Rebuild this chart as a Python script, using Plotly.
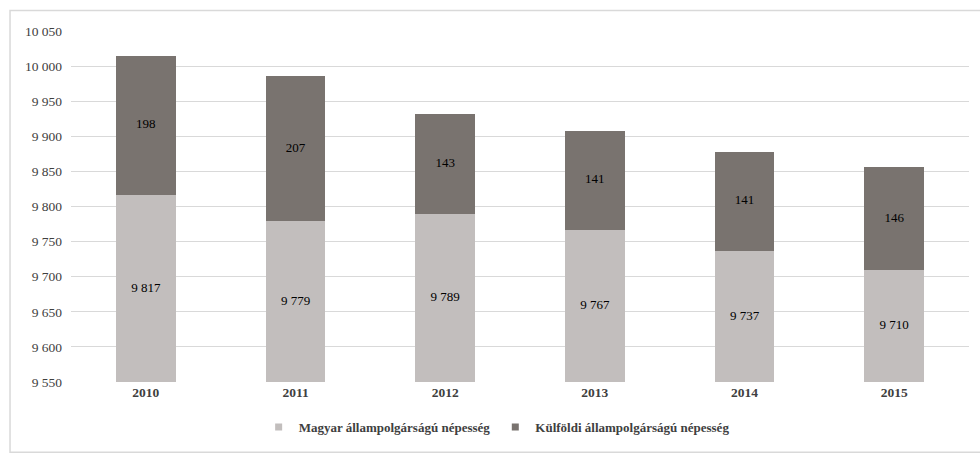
import plotly.graph_objects as go

years = ["2010", "2011", "2012", "2013", "2014", "2015"]
magyar = [9817, 9779, 9789, 9767, 9737, 9710]
kulfoldi = [198, 207, 143, 141, 141, 146]
series_names = ["Magyar állampolgárságú népesség", "Külföldi állampolgárságú népesség"]
colors = ["#C2BEBD", "#79736F"]
y_min, y_max = 9550, 10050
y_ticks = list(range(y_min, y_max + 1, 50))

FONT = "Liberation Serif"


def fmt(v):
    return f"{v:,}".replace(",", " ")


fig = go.Figure()
fig.add_trace(go.Bar(
    x=years, y=magyar, name=series_names[0], showlegend=False,
    marker=dict(color=colors[0], line=dict(width=0)), textposition="none",
))
fig.add_trace(go.Bar(
    x=years, y=kulfoldi, name=series_names[1], showlegend=False,
    marker=dict(color=colors[1], line=dict(width=0)), textposition="none",
))

# value labels centred on the visible part of each segment
fig.add_trace(go.Scatter(
    x=years, y=[(y_min + m) / 2 for m in magyar], mode="text",
    text=[fmt(m) for m in magyar], showlegend=False, hoverinfo="skip",
    textfont=dict(family=FONT, size=13, color="#000000"),
))
fig.add_trace(go.Scatter(
    x=years, y=[m + k / 2 for m, k in zip(magyar, kulfoldi)], mode="text",
    text=[fmt(k) for k in kulfoldi], showlegend=False, hoverinfo="skip",
    textfont=dict(family=FONT, size=13, color="#000000"),
))

# legend entries with small square keys
for name, col in zip(series_names, colors):
    fig.add_trace(go.Scatter(
        x=[None], y=[None], mode="markers", name=name,
        marker=dict(symbol="square", size=7, color=col),
    ))

fig.update_layout(
    barmode="stack",
    bargap=0.6,
    width=980, height=453,
    margin=dict(l=71, r=11, t=31, b=62),
    paper_bgcolor="white", plot_bgcolor="white",
    separators=", ",
    font=dict(family=FONT, size=13, color="#404040"),
    legend=dict(
        orientation="h", x=0.474, xanchor="center", y=-0.128, yanchor="middle",
        font=dict(family=FONT, size=13, color="#404040", weight="bold"),
        itemwidth=30, traceorder="normal", itemclick=False,
    ),
    xaxis=dict(
        showgrid=False, showline=False, ticks="",
        tickfont=dict(family=FONT, size=13.5, color="#404040", weight="bold"),
    ),
    yaxis=dict(
        range=[y_min, y_max], tickvals=y_ticks, tickformat=",d",
        showgrid=True, gridcolor="#D9D9D9", gridwidth=1,
        zeroline=False, showline=False, ticks="",
        ticklabelstandoff=8,
        tickfont=dict(family=FONT, size=13.5, color="#404040"),
    ),
    shapes=[dict(
        type="rect", xref="paper", yref="paper",
        x0=-0.0679, y0=-0.2, x1=1.03, y1=1.0583,
        line=dict(color="#D9D9D9", width=1.5), fillcolor="rgba(0,0,0,0)",
        layer="below",
    )],
)

fig.write_html("out.html")
